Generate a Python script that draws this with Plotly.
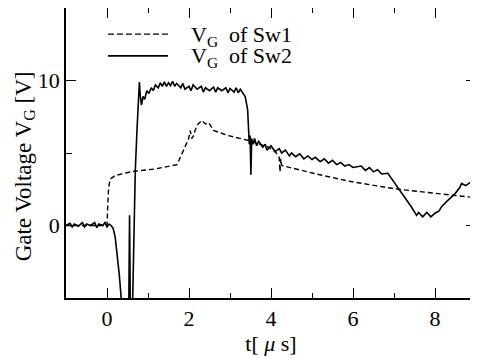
import plotly.graph_objects as go

# Sw2 gate voltage (solid)
t_sw2 = [-1.0, -0.9, -0.85, -0.8, -0.7, -0.6, -0.55, -0.5, -0.4, -0.3, -0.25, -0.2, -0.1, -0.05,
         0.0, 0.05, 0.1, 0.15, 0.2, 0.25, 0.3, 0.34, 0.37, 0.5, 0.53, 0.55, 0.57, 0.62, 0.66,
         0.69, 0.73, 0.76, 0.79, 0.81, 0.84, 0.88, 0.92, 0.97, 1.02, 1.08, 1.13, 1.18, 1.25,
         1.3, 1.35, 1.4, 1.45, 1.5, 1.55, 1.6, 1.65, 1.7, 1.8, 1.85, 1.9, 2.0, 2.05, 2.1, 2.2,
         2.3, 2.35, 2.4, 2.5, 2.6, 2.65, 2.7, 2.8, 2.9, 2.95, 3.0, 3.1, 3.15, 3.2, 3.25, 3.3,
         3.37, 3.43, 3.47, 3.49, 3.51, 3.53, 3.56, 3.6, 3.65, 3.7, 3.8, 3.86, 3.9, 4.0, 4.1,
         4.2, 4.26, 4.35, 4.45, 4.5, 4.6, 4.7, 4.8, 4.9, 5.0, 5.08, 5.2, 5.3, 5.4, 5.5, 5.6,
         5.7, 5.8, 5.9, 6.0, 6.2, 6.3, 6.4, 6.5, 6.6, 6.7, 6.85, 7.1, 7.3, 7.43, 7.55, 7.6,
         7.7, 7.8, 7.9, 8.0, 8.1, 8.16, 8.3, 8.49, 8.6, 8.65, 8.75, 8.85, 9.0]
v_sw2 = [0.0, 0.15, -0.1, 0.1, -0.05, 0.2, -0.1, 0.1, 0.0, 0.2, -0.15, 0.1, 0.0, 0.2,
         -0.1, 0.1, 0.0, -0.2, -0.8, -2.0, -3.4, -4.8, -6.0, -6.0, -6.0, 0.7, -6.0, -6.0, 1.5,
         3.8, 6.5, 8.4, 9.9, 9.0, 8.3, 8.9, 8.7, 9.3, 9.1, 9.5, 9.3, 9.7, 9.5,
         9.85, 9.6, 9.9, 9.6, 9.85, 9.65, 9.95, 9.6, 9.8, 9.5, 9.8, 9.4, 9.6, 9.3, 9.7, 9.4,
         9.6, 9.2, 9.5, 9.3, 9.55, 9.2, 9.5, 9.3, 9.5, 9.15, 9.45, 9.2, 9.5, 9.15, 9.4, 9.2,
         8.9, 8.0, 5.6, 6.2, 3.5, 6.0, 5.6, 6.0, 5.5, 5.8, 5.4, 5.6, 5.2, 5.5, 5.1,
         5.3, 5.0, 5.2, 4.8, 5.0, 4.75, 4.95, 4.6, 4.8, 4.55, 4.7, 4.4, 4.6, 4.3, 4.5, 4.2,
         4.35, 4.1, 4.2, 4.0, 4.1, 3.8, 4.0, 3.7, 3.85, 3.55, 3.6, 2.6, 1.8, 1.26, 0.7, 0.9,
         0.6, 0.9, 0.6, 0.85, 1.0, 1.3, 1.7, 2.2, 2.6, 2.9, 2.75, 2.95, 2.75]

# Sw1 gate voltage (dashed)
t_sw1 = [-1.0, 0.0, 0.02, 0.04, 0.08, 0.2, 0.61, 1.18, 1.71, 1.87, 1.99, 2.03, 2.07, 2.11,
         2.19, 2.31, 2.4, 2.48, 2.6, 2.96, 3.45, 3.94, 4.1, 4.2, 4.22, 4.24, 4.26, 5.08,
         5.89, 7.02, 7.84, 8.49, 9.0]
v_sw1 = [0.0, 0.0, 1.5, 2.64, 3.2, 3.45, 3.72, 3.9, 4.2, 5.17, 5.98, 6.55, 6.0, 6.2,
         6.9, 7.24, 7.0, 7.1, 6.55, 6.2, 5.86, 5.4, 5.1, 4.7, 3.7, 4.6, 4.14, 3.57,
         3.06, 2.53, 2.3, 2.07, 1.91]

x_range = [-1, 9]
y_range = [-5, 15]
x_tickvals = [0, 2, 4, 6, 8]
y_tickvals = [0, 10]

FONT = "Liberation Serif"

fig = go.Figure()
fig.add_trace(go.Scatter(x=t_sw1, y=v_sw1, mode="lines",
                         line=dict(color="black", width=1.4, dash="5px,3px"),
                         showlegend=False))
fig.add_trace(go.Scatter(x=t_sw2, y=v_sw2, mode="lines",
                         line=dict(color="black", width=1.6),
                         showlegend=False))

axis_common = dict(showline=True, linecolor="black", linewidth=1.5, mirror="ticks",
                   ticks="inside", ticklen=10, tickwidth=1.4, tickcolor="black",
                   showgrid=False, zeroline=False, automargin=False,
                   tickfont=dict(family=FONT, size=22, color="black"))

fig.update_xaxes(range=x_range, tickvals=x_tickvals,
                 minor=dict(dtick=1, tick0=0, ticks="inside", ticklen=5, tickwidth=1.4,
                            tickcolor="black", showgrid=False),
                 title=dict(text="t[ <i>μ</i> s]", font=dict(family=FONT, size=22, color="black"),
                            standoff=4),
                 **axis_common)
fig.update_yaxes(range=y_range, tickvals=y_tickvals,
                 minor=dict(dtick=5, tick0=0, ticks="inside", ticklen=6, tickwidth=1.4,
                            tickcolor="black", showgrid=False),
                 ticklabelstandoff=0,
                 **axis_common)

# y-axis title as rotated text, placed like the reference
fig.add_annotation(xref="paper", yref="paper", x=-0.1, y=0.454, xanchor="center", yanchor="middle",
                   text="Gate Voltage V<sub>G</sub> [V]", textangle=-90, showarrow=False,
                   font=dict(family=FONT, size=23, color="black"))

# legend drawn as paper-coordinate shapes and text
fig.add_shape(type="line", xref="paper", yref="paper", x0=0.1024, x1=0.2488, y0=0.91, y1=0.91,
              line=dict(color="black", width=1.4, dash="6px,3px"))
fig.add_shape(type="line", xref="paper", yref="paper", x0=0.1024, x1=0.2488, y0=0.835, y1=0.835,
              line=dict(color="black", width=1.6))
fig.add_annotation(xref="paper", yref="paper", x=0.30, y=0.905, xanchor="left", yanchor="middle",
                   text="V<sub>G</sub>  of Sw1", showarrow=False,
                   font=dict(family=FONT, size=22, color="black"))
fig.add_annotation(xref="paper", yref="paper", x=0.30, y=0.830, xanchor="left", yanchor="middle",
                   text="V<sub>G</sub>  of Sw2", showarrow=False,
                   font=dict(family=FONT, size=22, color="black"))

# page body adds an 8px offset, so the figure is 8px smaller than the window
fig.update_layout(width=470, height=350, margin=dict(l=58, r=2, t=0, b=60),
                  plot_bgcolor="white", paper_bgcolor="white")

fig.write_html("out.html")
